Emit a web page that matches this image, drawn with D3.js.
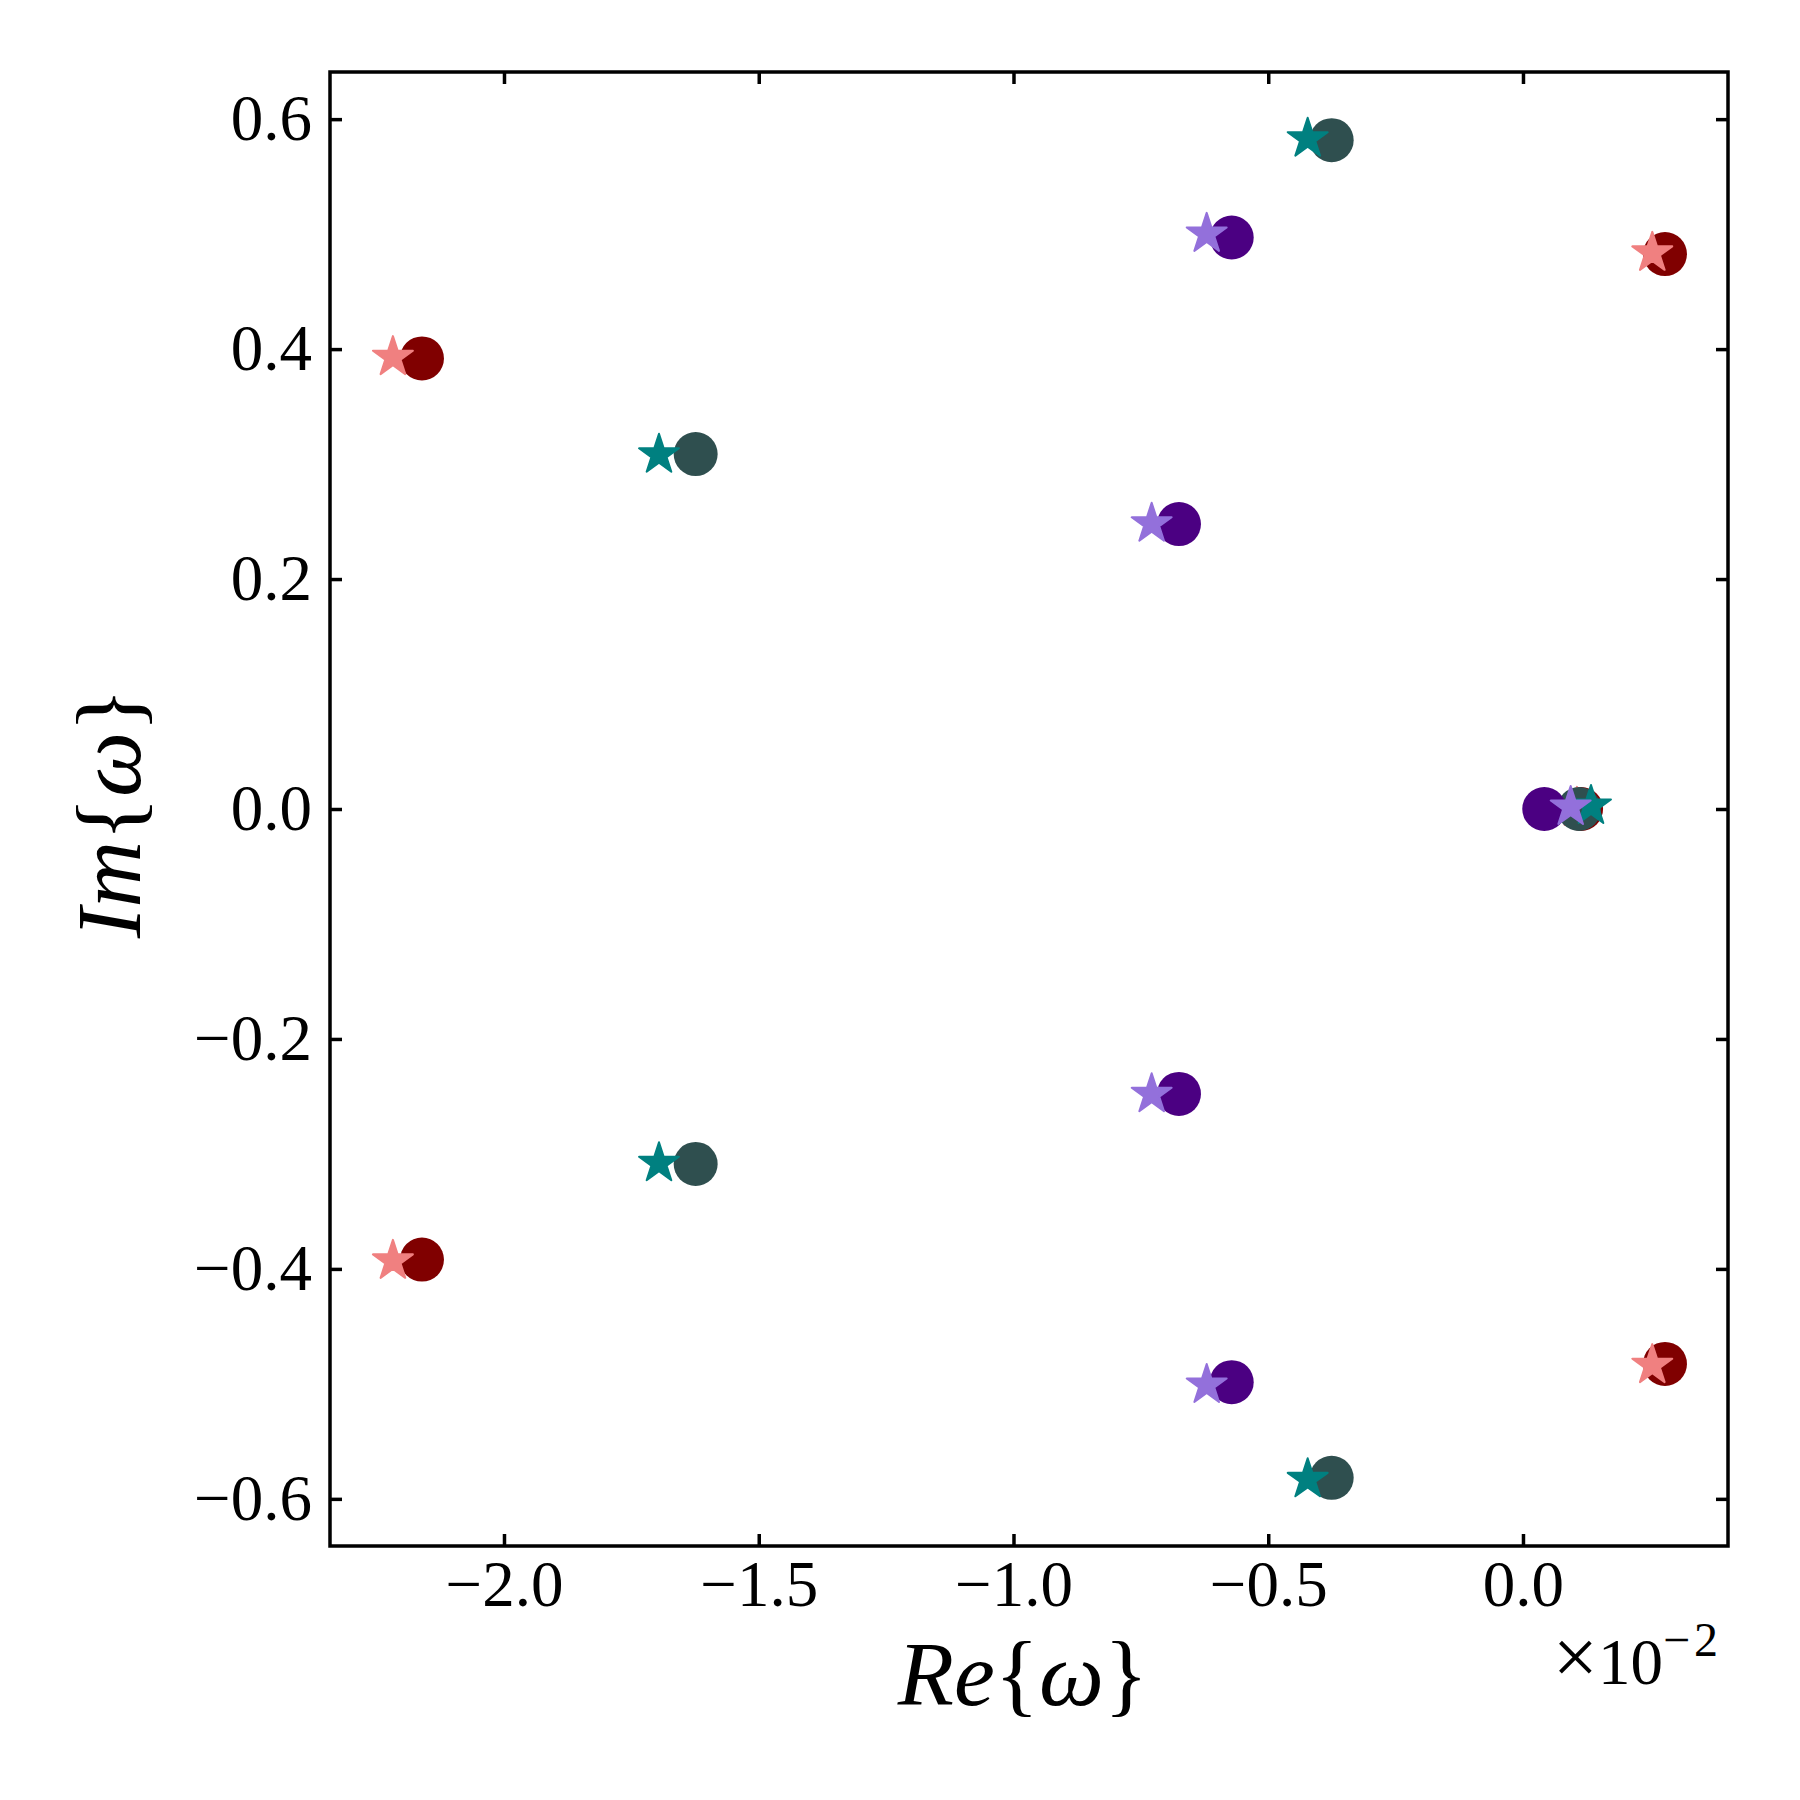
<!DOCTYPE html>
<html>
<head>
<meta charset="utf-8">
<script src="https://cdn.jsdelivr.net/npm/d3@7.9.0/dist/d3.min.js"></script>
<style>
  body { margin: 0; background: white; }
  svg { display: block; }
</style>
</head>
<body>
<svg id="chart" width="1800" height="1800"></svg>
<script>
// eigenvalues, Re in units of 1e-2
const maroonRe = [0.114, 0.2787, 0.2787, -2.161, -2.161];
const maroonIm = [0.0, 0.4826, -0.4826, 0.3919, -0.3919];
const coralRe = [0.106, 0.2538, 0.2538, -2.218, -2.218];
const coralIm = [0.001, 0.4837, -0.4837, 0.393, -0.393];

const slateRe = [0.110, -0.3755, -0.3755, -1.6238, -1.6238];
const slateIm = [0.0, 0.5817, -0.5817, 0.3087, -0.3087];
const tealRe = [0.1335, -0.4226, -0.4226, -1.6958, -1.6958];
const tealIm = [0.0026, 0.583, -0.583, 0.3081, -0.3081];

const indigoRe = [0.0418, -0.5717, -0.5717, -0.6752, -0.6752];
const indigoIm = [0.0, 0.4971, -0.4985, 0.2478, -0.2478];
const purpleRe = [0.0936, -0.6208, -0.6208, -0.7288, -0.7288];
const purpleIm = [0.0017, 0.5002, -0.501, 0.2481, -0.2481];

const xTicks = [-2.0, -1.5, -1.0, -0.5, 0.0];
const yTicks = [-0.6, -0.4, -0.2, 0.0, 0.2, 0.4, 0.6];

const layers = [
  { re: maroonRe, im: maroonIm, kind: "circle", color: "#800000" },
  { re: coralRe, im: coralIm, kind: "star", color: "#F08080" },
  { re: slateRe, im: slateIm, kind: "circle", color: "#2F4F4F" },
  { re: tealRe, im: tealIm, kind: "star", color: "#008080" },
  { re: indigoRe, im: indigoIm, kind: "circle", color: "#4B0082" },
  { re: purpleRe, im: purpleIm, kind: "star", color: "#9370DB" }
];

const plotLeft = 330, plotRight = 1728, plotTop = 72, plotBottom = 1546;
const font = "'Liberation Serif', 'DejaVu Serif', serif";
const tickFont = 65;

const svg = d3.select("#chart");

const x = d3.scaleLinear().domain([-2.3415, 0.4024]).range([plotLeft, plotRight]);
const y = d3.scaleLinear().domain([-0.641, 0.641]).range([plotBottom, plotTop]);

// wide minus like the TeX one
const fmt = d => d3.format(".1f")(d).replace("-", "\u2212\u200a");

// markers
const star = d3.symbol().type(d3.symbolStar).size(495);
layers.forEach(layer => {
  const pts = layer.re.map((r, i) => ({ re: r, im: layer.im[i] }));
  const g = svg.append("g");
  if (layer.kind === "circle") {
    g.selectAll("circle").data(pts).join("circle")
      .attr("cx", d => x(d.re))
      .attr("cy", d => y(d.im))
      .attr("r", 22)
      .attr("fill", layer.color);
  } else {
    g.selectAll("path").data(pts).join("path")
      .attr("d", star)
      .attr("transform", d => `translate(${x(d.re)},${y(d.im)})`)
      .attr("fill", layer.color)
      .attr("stroke", layer.color)
      .attr("stroke-width", 2)
      .attr("stroke-linejoin", "round");
  }
});

// axes, ticks pointing inward on all four sides
function styleAxis(g) {
  g.select(".domain").remove();
  g.selectAll("line").attr("stroke", "black").attr("stroke-width", 3.5);
  g.selectAll("text")
    .attr("font-family", font)
    .attr("font-size", tickFont)
    .attr("fill", "black");
}

svg.append("g")
  .attr("transform", `translate(0,${plotBottom})`)
  .call(d3.axisBottom(x).tickValues(xTicks).tickFormat(fmt).tickSize(-12).tickPadding(14))
  .call(styleAxis);

svg.append("g")
  .attr("transform", `translate(0,${plotTop})`)
  .call(d3.axisTop(x).tickValues(xTicks).tickFormat("").tickSize(-12))
  .call(styleAxis);

svg.append("g")
  .attr("transform", `translate(${plotLeft},0)`)
  .call(d3.axisLeft(y).tickValues(yTicks).tickFormat(fmt).tickSize(-12).tickPadding(18))
  .call(styleAxis);

svg.append("g")
  .attr("transform", `translate(${plotRight},0)`)
  .call(d3.axisRight(y).tickValues(yTicks).tickFormat("").tickSize(-12))
  .call(styleAxis);

svg.append("rect")
  .attr("x", plotLeft)
  .attr("y", plotTop)
  .attr("width", plotRight - plotLeft)
  .attr("height", plotBottom - plotTop)
  .attr("fill", "none")
  .attr("stroke", "black")
  .attr("stroke-width", 3.5);

// axis labels
const xLabel = svg.append("text")
  .attr("x", (plotLeft + plotRight) / 2 - 6)
  .attr("y", 1705)
  .attr("text-anchor", "middle")
  .attr("font-family", font)
  .attr("font-size", 92);
xLabel.append("tspan").attr("font-style", "italic").text("Re");
xLabel.append("tspan").text("{");
xLabel.append("tspan").attr("font-style", "italic").text("ω");
xLabel.append("tspan").text("}");

const yLabel = svg.append("text")
  .attr("transform", "translate(140,813) rotate(-90)")
  .attr("text-anchor", "middle")
  .attr("font-family", font)
  .attr("font-size", 92);
yLabel.append("tspan").attr("font-style", "italic").text("Im");
yLabel.append("tspan").text("{");
yLabel.append("tspan").attr("font-style", "italic").text("ω");
yLabel.append("tspan").text("}");

// offset text for the x axis
const offset = svg.append("text")
  .attr("x", 1718)
  .attr("y", 1684)
  .attr("text-anchor", "end")
  .attr("font-family", font)
  .attr("font-size", tickFont);
offset.append("tspan").attr("font-size", 80).text("×");
offset.append("tspan").text("10");
offset.append("tspan").attr("dy", -28).attr("font-size", 48).text("\u2212\u200a2");
</script>
</body>
</html>
